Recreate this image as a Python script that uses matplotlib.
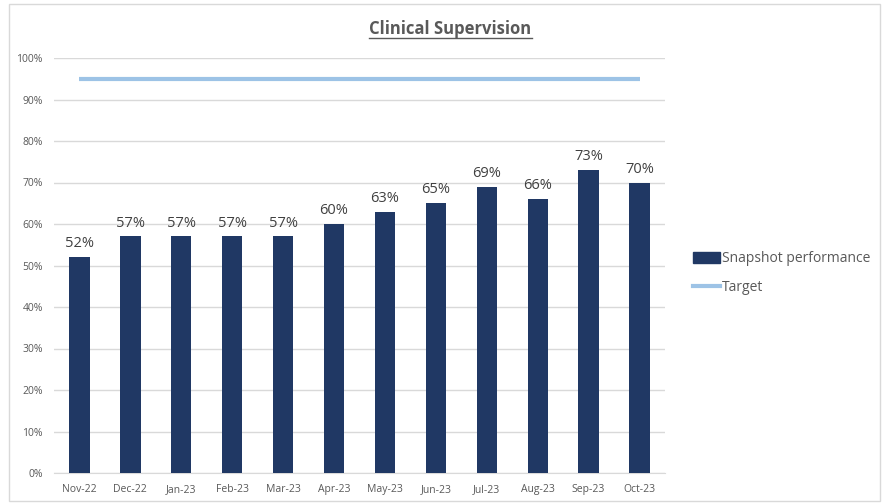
import matplotlib
matplotlib.use("Agg")
import matplotlib.pyplot as plt
from matplotlib.lines import Line2D
from matplotlib.patches import Rectangle
from matplotlib.ticker import PercentFormatter

months = ["Nov-22", "Dec-22", "Jan-23", "Feb-23", "Mar-23", "Apr-23",
          "May-23", "Jun-23", "Jul-23", "Aug-23", "Sep-23", "Oct-23"]
snapshot = [0.52, 0.57, 0.57, 0.57, 0.57, 0.60, 0.63, 0.65, 0.69, 0.66, 0.73, 0.70]
target = [0.95] * 12

plt.rcParams['font.family'] = ['Open Sans', 'DejaVu Sans']

W, H = 883, 503
fig = plt.figure(figsize=(W / 100, H / 100), dpi=100)
fig.patch.set_facecolor("white")
fig.patches.append(Rectangle((9 / W, 2 / H), (W - 12) / W, (H - 6) / H,
                             transform=fig.transFigure, fill=False,
                             edgecolor="#d9d9d9", linewidth=1))

ax = fig.add_axes([54 / W, 30 / H, (665 - 54) / W, (473 - 58) / H])
x = list(range(len(months)))
bars = ax.bar(x, snapshot, width=0.4, color="#203864", label="Snapshot performance", zorder=3)
ax.plot([x[0], x[-1]], [target[0], target[-1]], color="#9DC3E6", linewidth=3,
        label="Target", zorder=4, solid_capstyle="butt")

for xi, v in zip(x, snapshot):
    ax.text(xi, v + 0.014, f"{round(v * 100)}%", ha="center", va="bottom",
            fontsize=10.5, color="#404040")

ax.set_xlim(-0.5, len(months) - 0.5)
ax.set_ylim(0, 1.0)
ax.set_yticks([i / 10 for i in range(11)])
ax.yaxis.set_major_formatter(PercentFormatter(1.0, decimals=0))
ax.set_xticks(x)
ax.set_xticklabels(months)
ax.tick_params(axis="both", length=0, labelsize=7.5, colors="#595959")
ax.tick_params(axis="x", pad=8)
ax.tick_params(axis="y", pad=8)
ax.grid(axis="y", color="#d9d9d9", linewidth=1, zorder=0)
for s in ["top", "right", "left"]:
    ax.spines[s].set_visible(False)
ax.spines["bottom"].set_color("#d9d9d9")

fig.text(450 / W, 1 - 29 / H, "Clinical Supervision", ha="center", va="center",
         fontsize=12, fontweight="bold", color="#595959")
fig.add_artist(Line2D([369 / W, 532 / W], [1 - 38 / H, 1 - 38 / H],
                      transform=fig.transFigure, color="#595959", linewidth=1))

handles = [Rectangle((0, 0), 1, 1, color="#203864"),
           Line2D([0], [0], color="#9DC3E6", linewidth=3)]
fig.legend(handles, ["Snapshot performance", "Target"], loc="center left",
           bbox_to_anchor=(680 / W, 1 - 273 / H), frameon=False, fontsize=10,
           labelcolor="#595959", handlelength=2.0, handleheight=0.9,
           handletextpad=0.1, labelspacing=1.0)

fig.savefig("out.png", dpi=100)
